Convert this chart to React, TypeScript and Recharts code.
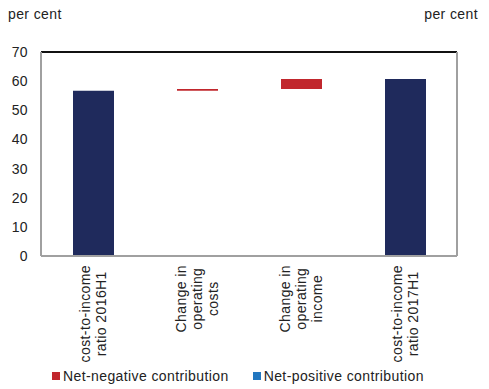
import { BarChart, Bar, XAxis, YAxis, CartesianGrid, ReferenceLine } from 'recharts';

const categories = [
    'cost-to-income ratio 2016H1',
    'Change in operating costs',
    'Change in operating income',
    'cost-to-income ratio 2017H1',
];
const labelLines = [
    ['cost-to-income', 'ratio 2016H1'],
    ['Change in', 'operating', 'costs'],
    ['Change in', 'operating', 'income'],
    ['cost-to-income', 'ratio 2017H1'],
];
const totals = [56.7, 0, 0, 60.7];
const netNegative = [0, 0.6, 3.4, 0];
const netPositive = [0, 0, 0, 0];
const yTicks = [0, 10, 20, 30, 40, 50, 60, 70];
const seriesNames = ['Net-negative contribution', 'Net-positive contribution'];

const NAVY = '#1f2a5c';
const RED = '#c1272d';
const BLUE = '#2277c0';
const FONT = '"Liberation Sans", Arial, sans-serif';
const FS = 14;
const LS = 0.4;

// waterfall: invisible base carries the running level
let level = 0;
const data = categories.map((name, i) => {
    let base = 0;
    if (totals[i] > 0) {
        level = totals[i];
    } else {
        base = level - netPositive[i];
        level = level + netNegative[i] - netPositive[i];
    }
    return { name, base, total: totals[i], neg: netNegative[i], pos: netPositive[i] };
});

let ctx: CanvasRenderingContext2D | null = null;
function textWidth(s: string) {
    if (!ctx) ctx = document.createElement('canvas').getContext('2d');
    if (!ctx) return s.length * 7.5;
    ctx.font = `${FS}px ${FONT}`;
    return ctx.measureText(s).width + LS * s.length;
}

function XTick(props: any) {
    const { x, y, payload } = props;
    const lines = labelLines[payload.index] || [];
    const maxLen = Math.max(...lines.map(textWidth));
    const lineH = 16;
    const center = 9 + maxLen / 2;
    return (
        <g transform={`translate(${x},${y}) rotate(-90)`}>
            {lines.map((l, i) => (
                <text
                    key={i}
                    x={-center}
                    y={(i - (lines.length - 1) / 2) * lineH + FS * 0.35}
                    textAnchor="middle"
                    fill="#222"
                    style={{ fontFamily: FONT, fontSize: FS, letterSpacing: LS }}
                >
                    {l}
                </text>
            ))}
        </g>
    );
}

const tickStyle = { fill: '#222', fontSize: FS, fontFamily: FONT, letterSpacing: LS };

export default function App() {
    return (
        <div style={{ position: 'absolute', left: 0, top: 0, width: 489, height: 389, fontFamily: FONT, background: '#fff' }}>
            <div style={{ position: 'absolute', left: 8, top: 6, fontSize: FS, letterSpacing: LS, color: '#222' }}>per cent</div>
            <div style={{ position: 'absolute', right: 11, top: 6, fontSize: FS, letterSpacing: LS, color: '#222' }}>per cent</div>
            <BarChart
                width={489}
                height={389}
                data={data}
                margin={{ top: 52, right: 0, left: 0, bottom: 28 }}
                barSize={41}
            >
                <CartesianGrid vertical={false} stroke="#d9d9d9" strokeWidth={1.5} />
                <XAxis
                    dataKey="name"
                    height={105}
                    interval={0}
                    tick={<XTick />}
                    tickLine={false}
                    tickSize={0}
                    tickMargin={0}
                    axisLine={{ stroke: '#a0a0a0', strokeWidth: 2 }}
                />
                <YAxis
                    yAxisId="left"
                    width={41}
                    domain={[0, 70]}
                    ticks={yTicks}
                    tickLine={false}
                    tickSize={0}
                    tickMargin={13}
                    tick={tickStyle}
                    axisLine={{ stroke: '#a0a0a0', strokeWidth: 2 }}
                />
                <YAxis
                    yAxisId="right"
                    orientation="right"
                    width={32}
                    domain={[0, 70]}
                    ticks={yTicks}
                    tickLine={false}
                    tickSize={0}
                    tickMargin={6}
                    tick={{ ...tickStyle, textAnchor: 'start' }}
                    axisLine={{ stroke: '#a0a0a0', strokeWidth: 2 }}
                />
                <ReferenceLine yAxisId="left" y={70} stroke="#111" strokeWidth={2} />
                <Bar yAxisId="left" dataKey="base" stackId="w" fill="transparent" isAnimationActive={false} />
                <Bar yAxisId="left" dataKey="total" stackId="w" fill={NAVY} isAnimationActive={false} />
                <Bar yAxisId="left" dataKey="neg" name={seriesNames[0]} stackId="w" fill={RED} isAnimationActive={false} />
                <Bar yAxisId="left" dataKey="pos" name={seriesNames[1]} stackId="w" fill={BLUE} isAnimationActive={false} />
            </BarChart>
            <div style={{ position: 'absolute', left: 52, top: 368, display: 'flex', fontSize: FS, letterSpacing: LS, color: '#222', whiteSpace: 'nowrap' }}>
                {seriesNames.map((s, i) => (
                    <div key={s} style={{ display: 'flex', alignItems: 'center', marginRight: 24 }}>
                        <span style={{ display: 'inline-block', width: 8, height: 8, background: i === 0 ? RED : BLUE, marginRight: 3 }} />
                        <span>{s}</span>
                    </div>
                ))}
            </div>
        </div>
    );
}
